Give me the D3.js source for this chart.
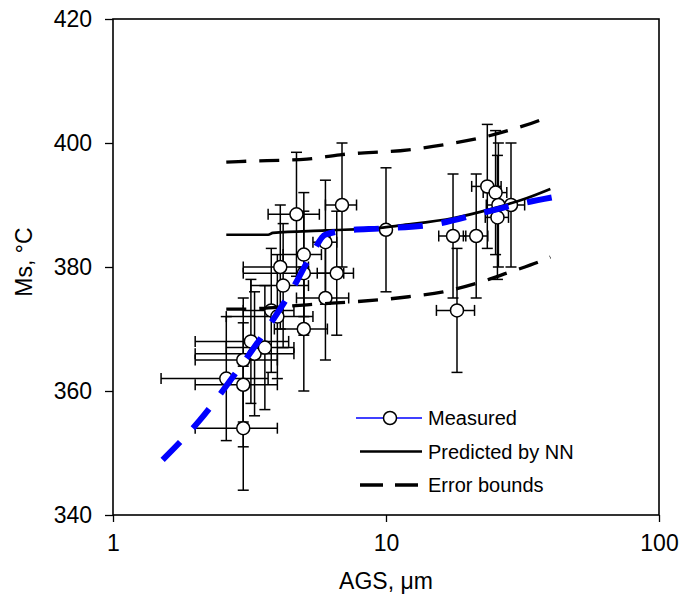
<!DOCTYPE html>
<html>
<head>
<meta charset="utf-8">
<script src="https://cdn.jsdelivr.net/npm/d3@7"></script>
<style>
  body { margin: 0; background: #fff; }
  svg text { font-family: "Liberation Sans", Arial, sans-serif; fill: #000; }
</style>
</head>
<body>
<div id="chart"></div>
<script>
// measured points (AGS in um, Ms in C) with error bars
const agsMeasured = [2.6, 3.0, 3.0, 3.0, 3.3, 3.6, 3.2, 3.8, 4.0, 4.1, 4.2, 4.7, 5.0, 5.0, 5.0, 6.0, 6.0, 6.6, 6.9, 10, 17.6, 21.4, 18.2, 23.5, 25.2, 25.8, 28.7, 25.6]
const msMeasured = [362, 361, 354, 365, 366, 367, 368, 373, 372, 380, 377, 388.5, 382, 379, 370, 384, 375, 379, 390, 386, 385, 385, 373, 393, 392, 390, 390, 388]
const agsError = [1.1, 1.0, 1.0, 1.0, 1.3, 1.0, 1.2, 0.8, 1.4, 1.1, 1.0, 1.0, 0.8, 2.0, 1.1, 0.6, 1.3, 1.0, 0.9, 0.3, 2.0, 2.2, 2.9, 2.9, 2.5, 2.5, 3.5, 2.5]
const msError = [10, 10, 10, 10, 10, 10, 10, 10, 10, 10, 10, 10, 10, 10, 10, 10, 10, 10, 10, 10, 10, 10, 10, 10, 10, 10, 10, 10]

// NN prediction and its error bounds
const nnAgs = [2.6, 3.7, 3.85, 6, 9.5, 11.3, 17.7, 24, 32.7, 40]
const nnMs = [385.2, 385.2, 385.5, 385.9, 386.3, 386.7, 387.9, 389.3, 391.1, 392.6]
const upperAgs = [2.6, 2.88, 5.13, 6.78, 12.1, 16.2, 21.6, 28.5, 36.7, 40]
const upperMs = [396.9, 397.0, 397.4, 398.1, 398.9, 399.7, 400.7, 402.1, 403.7, 404.4]
const lowerAgs = [2.6, 2.85, 5.13, 12.1, 16.2, 21.6, 28.5, 36.7, 40]
const lowerMs = [373.2, 373.2, 373.9, 375.2, 376.0, 377.4, 379.2, 380.9, 381.6]

// blue trend
const trendAgs = [1.52, 2.08, 2.87, 3.70, 4.52, 5.40, 5.98, 7.51, 9.51, 15.5, 22.4, 31.8, 41.6]
const trendMs = [348.9, 355.3, 363.4, 370.3, 376.3, 382.4, 385.2, 386.0, 386.2, 387.0, 388.7, 390.3, 391.3]

const xTicks = [1, 10, 100]
const yTicks = [340, 360, 380, 400, 420]

const legendItems = [
    {label: "Measured", type: "measured"},
    {label: "Predicted by NN", type: "nn"},
    {label: "Error bounds", type: "bounds"},
]

// dimensions
const dimensions = {
    width: 683,
    height: 605,
    margin: {top: 19, right: 24, bottom: 90, left: 113}
}
dimensions.boundedWidth = dimensions.width - dimensions.margin.left - dimensions.margin.right
dimensions.boundedHeight = dimensions.height - dimensions.margin.top - dimensions.margin.bottom

const wrapper = d3.select("#chart")
    .append("svg")
    .attr("width", dimensions.width)
    .attr("height", dimensions.height)

const bounds = wrapper.append("g")
    .attr("transform", `translate(${dimensions.margin.left},${dimensions.margin.top})`)

// scales
const xScale = d3.scaleLog()
    .domain([1, 100])
    .range([0, dimensions.boundedWidth])
const yScale = d3.scaleLinear()
    .domain([340, 420])
    .range([dimensions.boundedHeight, 0])

// axes
const xAxis = bounds.append("g")
    .attr("transform", `translate(0,${dimensions.boundedHeight})`)
    .call(d3.axisBottom(xScale).tickValues(xTicks).tickFormat(d3.format("d"))
        .tickSize(7).tickSizeOuter(0).tickPadding(13))
const yAxis = bounds.append("g")
    .call(d3.axisLeft(yScale).tickValues(yTicks)
        .tickSize(8).tickSizeOuter(0).tickPadding(13))

;[xAxis, yAxis].forEach(ax => {
    ax.select(".domain").remove()
    ax.selectAll("line").attr("stroke", "#000").attr("stroke-width", 1.3)
    ax.selectAll("text").style("font-size", "23px").attr("fill", "#000")
})

// frame
bounds.append("rect")
    .attr("width", dimensions.boundedWidth)
    .attr("height", dimensions.boundedHeight)
    .attr("fill", "none")
    .attr("stroke", "#000")
    .attr("stroke-width", 1.6)

// axis titles
wrapper.append("text")
    .attr("x", dimensions.margin.left + dimensions.boundedWidth / 2)
    .attr("y", 589)
    .attr("text-anchor", "middle")
    .style("font-size", "23px")
    .text("AGS, μm")
wrapper.append("text")
    .attr("transform", `translate(32,${262}) rotate(-90)`)
    .attr("text-anchor", "middle")
    .style("font-size", "23px")
    .text("Ms, °C")

// error bars
const measured = agsMeasured.map((d, i) => ({
    x: d, y: msMeasured[i], ex: agsError[i], ey: msError[i]
}))
const cap = 5.5
const errGroup = bounds.append("g")
    .attr("stroke", "#000")
    .attr("stroke-width", 1.5)
measured.forEach(d => {
    const cx = xScale(d.x), cy = yScale(d.y)
    const x0 = xScale(d.x - d.ex), x1 = xScale(d.x + d.ex)
    const y0 = yScale(d.y + d.ey), y1 = yScale(d.y - d.ey)
    errGroup.append("line").attr("x1", x0).attr("x2", x1).attr("y1", cy).attr("y2", cy)
    errGroup.append("line").attr("x1", x0).attr("x2", x0).attr("y1", cy - cap).attr("y2", cy + cap)
    errGroup.append("line").attr("x1", x1).attr("x2", x1).attr("y1", cy - cap).attr("y2", cy + cap)
    errGroup.append("line").attr("x1", cx).attr("x2", cx).attr("y1", y0).attr("y2", y1)
    errGroup.append("line").attr("x1", cx - cap).attr("x2", cx + cap).attr("y1", y0).attr("y2", y0)
    errGroup.append("line").attr("x1", cx - cap).attr("x2", cx + cap).attr("y1", y1).attr("y2", y1)
})

// points
bounds.append("g").selectAll("circle")
    .data(measured)
    .join("circle")
    .attr("cx", d => xScale(d.x))
    .attr("cy", d => yScale(d.y))
    .attr("r", 6.5)
    .attr("fill", "#fff")
    .attr("stroke", "#000")
    .attr("stroke-width", 1.5)

// lines
const lineGen = d3.line()
    .x(d => xScale(d[0]))
    .y(d => yScale(d[1]))
    .curve(d3.curveMonotoneX)
const zip = (a, b) => a.map((d, i) => [d, b[i]])

bounds.append("path")
    .attr("d", lineGen(zip(upperAgs, upperMs)))
    .attr("fill", "none").attr("stroke", "#000")
    .attr("stroke-width", 3.3).attr("stroke-dasharray", "20 13")
bounds.append("path")
    .attr("d", lineGen(zip(lowerAgs, lowerMs)))
    .attr("fill", "none").attr("stroke", "#000")
    .attr("stroke-width", 3.3).attr("stroke-dasharray", "20 13")
bounds.append("path")
    .attr("d", lineGen(zip(nnAgs, nnMs)))
    .attr("fill", "none").attr("stroke", "#000")
    .attr("stroke-width", 2.7)
bounds.append("path")
    .attr("d", lineGen(zip(trendAgs, trendMs)))
    .attr("fill", "none").attr("stroke", "#0000ff")
    .attr("stroke-width", 6).attr("stroke-dasharray", "25 19")

// legend
const legendGroup = wrapper.append("g")
    .attr("transform", "translate(356,418)")
legendItems.forEach((d, i) => {
    const g = legendGroup.append("g").attr("transform", `translate(0,${i * 33.5})`)
    if (d.type === "measured") {
        g.append("line").attr("x1", 0).attr("x2", 66).attr("stroke", "#0000ff").attr("stroke-width", 1.5)
        g.append("circle").attr("cx", 34).attr("r", 6.5)
            .attr("fill", "#fff").attr("stroke", "#000").attr("stroke-width", 1.5)
    } else if (d.type === "nn") {
        g.append("line").attr("x1", 4).attr("x2", 66).attr("stroke", "#000").attr("stroke-width", 2.7)
    } else {
        g.append("line").attr("x1", 4).attr("x2", 66).attr("stroke", "#000")
            .attr("stroke-width", 3.3).attr("stroke-dasharray", "23 12")
    }
    g.append("text")
        .attr("x", 72)
        .attr("dy", "0.35em")
        .style("font-size", "20px")
        .text(d.label)
})
</script>
</body>
</html>
